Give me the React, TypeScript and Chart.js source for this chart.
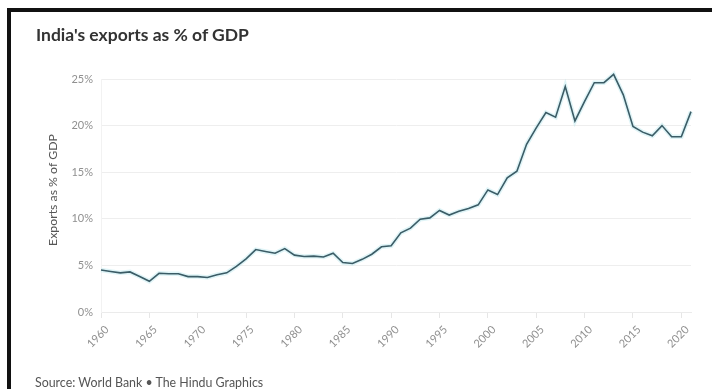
import React, { useEffect, useRef } from "react";
import { Chart, registerables } from "chart.js";

Chart.register(...registerables);

const years = [
  1960, 1961, 1962, 1963, 1964, 1965, 1966, 1967, 1968, 1969,
  1970, 1971, 1972, 1973, 1974, 1975, 1976, 1977, 1978, 1979,
  1980, 1981, 1982, 1983, 1984, 1985, 1986, 1987, 1988, 1989,
  1990, 1991, 1992, 1993, 1994, 1995, 1996, 1997, 1998, 1999,
  2000, 2001, 2002, 2003, 2004, 2005, 2006, 2007, 2008, 2009,
  2010, 2011, 2012, 2013, 2014, 2015, 2016, 2017, 2018, 2019,
  2020, 2021,
];

const exportsPct = [
  4.5, 4.35, 4.2, 4.3, 3.8, 3.3, 4.15, 4.1, 4.1, 3.8,
  3.8, 3.7, 4.0, 4.2, 4.9, 5.7, 6.7, 6.5, 6.3, 6.8,
  6.1, 5.95, 6.0, 5.9, 6.3, 5.3, 5.2, 5.65, 6.2, 7.0,
  7.1, 8.5, 9.0, 9.95, 10.1, 10.9, 10.4, 10.8, 11.1, 11.5,
  13.1, 12.6, 14.4, 15.1, 18.0, 19.75, 21.4, 20.9, 24.2, 20.5,
  22.6, 24.6, 24.6, 25.5, 23.3, 19.9, 19.3, 18.9, 20.0, 18.8,
  18.8, 21.5,
];

const xTickYears = [1960, 1965, 1970, 1975, 1980, 1985, 1990, 1995, 2000, 2005, 2010, 2015, 2020];
const yTickValues = [0, 5, 10, 15, 20, 25];

const titleText = "India's exports as % of GDP";
const yAxisTitle = "Exports as % of GDP";
const sourceText = "Source: World Bank \u2022 The Hindu Graphics";

const FONT = "Lato, 'Noto Sans', sans-serif";

export default function App() {
  const canvasRef = useRef<HTMLCanvasElement | null>(null);

  useEffect(() => {
    const canvas = canvasRef.current;
    if (!canvas) return;
    const points = years.map((yr, i) => ({ x: yr, y: exportsPct[i] }));
    const chart = new Chart(canvas, {
      type: "line",
      data: {
        datasets: [
          {
            data: points,
            borderColor: "#3b5c66",
            borderWidth: 1.6,
            pointRadius: 0,
            tension: 0,
            clip: false as any,
            order: 0,
          },
          {
            data: points,
            borderColor: "rgba(185,230,238,0.45)",
            borderWidth: 4.5,
            pointRadius: 0,
            tension: 0,
            clip: false as any,
            order: 1,
          },
        ],
      },
      options: {
        animation: false,
        responsive: false,
        maintainAspectRatio: false,
        events: [],
        layout: { padding: { left: 42, right: 21, top: 79, bottom: 27 } },
        plugins: {
          legend: { display: false },
          tooltip: { enabled: false },
          title: { display: false },
        },
        scales: {
          x: {
            type: "linear",
            min: 1960,
            max: 2021,
            afterBuildTicks: (scale: any) => {
              scale.ticks = xTickYears.map((v) => ({ value: v }));
            },
            afterFit: (scale: any) => {
              scale.height = 50;
            },
            grid: {
              drawOnChartArea: false,
              drawTicks: true,
              tickLength: 6,
              color: "#e6e6e6",
            },
            border: { display: true, color: "#ebebeb" },
            ticks: {
              autoSkip: false,
              minRotation: 45,
              maxRotation: 45,
              padding: 5,
              labelOffset: 6,
              color: "#909090",
              font: { family: FONT, size: 11 },
              callback: (v: any) => String(v),
            },
          },
          y: {
            type: "linear",
            min: 0,
            max: 25,
            afterBuildTicks: (scale: any) => {
              scale.ticks = yTickValues.map((v) => ({ value: v }));
            },
            afterFit: (scale: any) => {
              scale.width = 59;
            },
            grid: {
              drawTicks: false,
              color: "#eeeeee",
            },
            border: { display: true, color: "#f2f2f2" },
            ticks: {
              padding: 8,
              color: "#909090",
              font: { family: FONT, size: 11 },
              callback: (v: any) => v + "%",
            },
            title: { display: false },
          },
        },
      },
    });
    return () => chart.destroy();
  }, []);

  return (
    <div
      style={{
        position: "fixed",
        left: 0,
        top: 0,
        width: 712,
        height: 389,
        overflow: "hidden",
        background: "#ffffff",
      }}
    >
      <canvas
        ref={canvasRef}
        width={712}
        height={389}
        style={{ position: "absolute", left: 0, top: 0, width: 712, height: 389 }}
      />
      <div
        style={{
          position: "absolute",
          left: 53,
          top: 190,
          width: 0,
          height: 0,
        }}
      >
        <div
          style={{
            position: "absolute",
            left: -80,
            top: -8,
            width: 160,
            height: 16,
            textAlign: "center",
            transform: "rotate(-90deg)",
            transformOrigin: "80px 8px",
            fontFamily: FONT,
            fontSize: 12.3,
            lineHeight: "16px",
            color: "#555555",
            whiteSpace: "nowrap",
          }}
        >
          {yAxisTitle}
        </div>
      </div>
      <div
        style={{
          position: "absolute",
          left: 7,
          top: 8,
          width: 900,
          height: 600,
          borderLeft: "4px solid #111",
          borderTop: "4px solid #111",
          pointerEvents: "none",
        }}
      />
      <div
        style={{
          position: "absolute",
          left: 36,
          top: 25,
          fontFamily: FONT,
          fontWeight: 700,
          fontSize: 17.5,
          lineHeight: "20px",
          color: "#333333",
          whiteSpace: "nowrap",
        }}
      >
        {titleText}
      </div>
      <div
        style={{
          position: "absolute",
          left: 35,
          top: 376,
          fontFamily: FONT,
          fontSize: 12.4,
          lineHeight: "14px",
          color: "#555555",
          whiteSpace: "nowrap",
        }}
      >
        {sourceText}
      </div>
    </div>
  );
}
